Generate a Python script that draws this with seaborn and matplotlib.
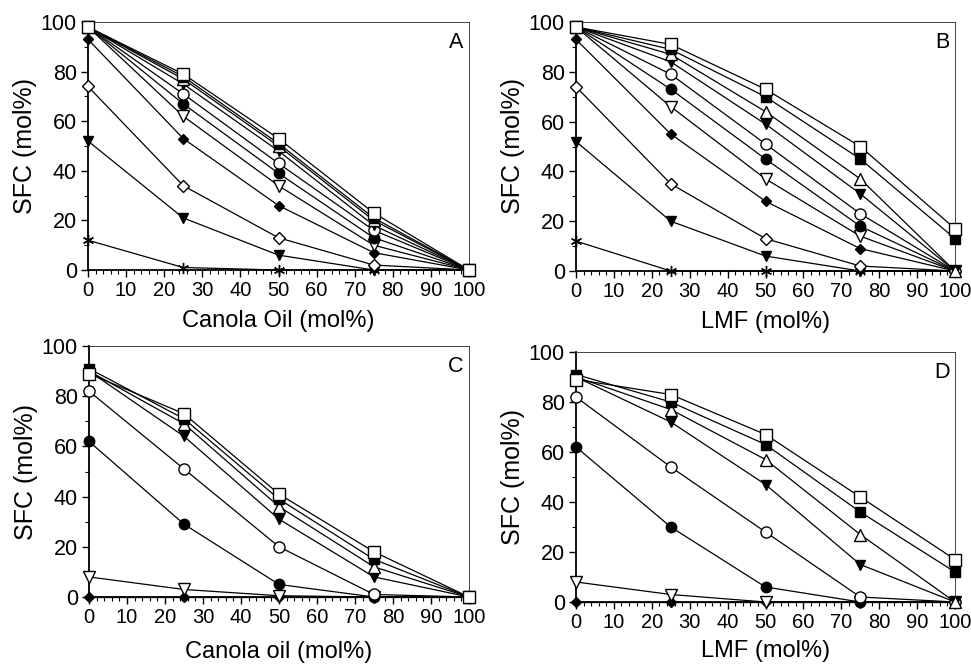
import numpy as np
import pandas as pd
import seaborn as sns
import matplotlib.pyplot as plt
from matplotlib.ticker import MultipleLocator

# composition of the blend (mol%)
conc = [0, 25, 50, 75, 100]

# series names, same order in every panel (drawn back to front)
series_ab = ['sq_open', 'sq_fill', 'tri_open', 'vtri_fill', 'circ_open', 'circ_fill',
             'vtri_open', 'dia_fill', 'dia_open', 'vtri_fill2', 'star']
series_cd = ['sq_open', 'sq_fill', 'tri_open', 'vtri_fill', 'circ_open', 'circ_fill',
             'vtri_open', 'dia_fill']

# SFC (mol%)
sfc_a = [[98, 79, 53, 23, 0],
         [98, 78, 51, 21, 0],
         [98, 77, 50, 20, 0],
         [98, 75, 48, 18, 0],
         [98, 71, 43, 16, 0],
         [98, 67, 39, 13, 0],
         [98, 62, 34, 10, 0],
         [93, 53, 26, 7, 0],
         [74, 34, 13, 2, 0],
         [52, 21, 6, 0, 0],
         [12, 1, 0, 0, 0]]

sfc_b = [[98, 91, 73, 50, 17],
         [98, 89, 70, 45, 13],
         [98, 87, 64, 37, 0],
         [98, 84, 59, 31, 0],
         [98, 79, 51, 23, 0],
         [98, 73, 45, 18, 0],
         [98, 66, 37, 14, 0],
         [93, 55, 28, 9, 0],
         [74, 35, 13, 2, 0],
         [52, 20, 6, 0, 0],
         [12, 0, 0, 0, 0]]

sfc_c = [[89, 73, 41, 18, 0],
         [91, 71, 39, 15, 0],
         [90, 69, 36, 12, 0],
         [90, 64, 31, 8, 0],
         [82, 51, 20, 1, 0],
         [62, 29, 5, 0, 0],
         [8, 3, 0.5, 0, 0],
         [0, 0, 0, 0, 0]]

sfc_d = [[89, 83, 67, 42, 17],
         [91, 80, 63, 36, 12],
         [90, 77, 57, 27, 0],
         [90, 72, 47, 15, 0],
         [82, 54, 28, 2, 0],
         [62, 30, 6, 0, 0],
         [8, 3, 0, 0, 0],
         [0, 0, 0, 0, 0]]

# marker styles: (marker, filled, size)
styles = {
    'sq_open': ('s', False, 8),
    'sq_fill': ('s', True, 7),
    'tri_open': ('^', False, 8),
    'vtri_fill': ('v', True, 7.5),
    'circ_open': ('o', False, 8),
    'circ_fill': ('o', True, 7.5),
    'vtri_open': ('v', False, 8),
    'dia_fill': ('D', True, 5.5),
    'dia_open': ('D', False, 6.5),
    'vtri_fill2': ('v', True, 7.5),
    'star': ((6, 2, 0), True, 8),
}

sns.set_style("ticks")
plt.rcParams['font.family'] = ['Liberation Sans', 'DejaVu Sans']
plt.rcParams['text.color'] = 'black'
plt.rcParams['axes.labelcolor'] = 'black'

fig = plt.figure(figsize=(9.71, 6.69), dpi=100)
W, H = 971, 669
boxes = {
    'A': (88, 22, 469, 270),
    'B': (576, 22, 955, 271),
    'C': (89, 346, 469, 597),
    'D': (576, 352, 955, 602),
}
panels = [('A', sfc_a, series_ab, 'Canola Oil (mol%)', 7),
          ('B', sfc_b, series_ab, 'LMF (mol%)', 7),
          ('C', sfc_c, series_cd, 'Canola oil (mol%)', 10),
          ('D', sfc_d, series_cd, 'LMF (mol%)', 6)]

for letter, sfc, names, xlabel, xpad in panels:
    x0, y0, x1, y1 = boxes[letter]
    ax = fig.add_axes([x0 / W, (H - y1) / H, (x1 - x0) / W, (y1 - y0) / H])
    rows = []
    for name, vals in zip(names, sfc):
        for c, v in zip(conc, vals):
            rows.append({'series': name, 'conc': c, 'sfc': v})
    df = pd.DataFrame(rows)
    # draw bottom series first so the squares end up on top
    for name in names[::-1]:
        m, filled, ms = styles[name]
        sns.lineplot(data=df[df['series'] == name], x='conc', y='sfc', ax=ax,
                     color='black', linewidth=0.9, marker=m, markersize=ms,
                     markerfacecolor='black' if filled else 'white',
                     markeredgecolor='black', markeredgewidth=1.0,
                     clip_on=False, zorder=3)
    ax.set_xlim(0, 100)
    ax.set_ylim(0, 100)
    ax.xaxis.set_major_locator(MultipleLocator(10))
    ax.xaxis.set_minor_locator(MultipleLocator(2))
    ax.yaxis.set_major_locator(MultipleLocator(20))
    ax.yaxis.set_minor_locator(MultipleLocator(10))
    ax.tick_params(which='major', direction='out', length=5, width=1,
                   color='black', labelcolor='black', pad=3)
    ax.tick_params(axis='x', which='major', labelsize=14.5)
    ax.tick_params(axis='y', which='major', labelsize=15.5)
    ax.tick_params(which='minor', direction='out', length=3, width=0.8, color='black')
    for side in ['left', 'bottom']:
        ax.spines[side].set_linewidth(1.3)
        ax.spines[side].set_color('black')
    for side in ['top', 'right']:
        ax.spines[side].set_visible(True)
        ax.spines[side].set_linewidth(0.7)
        ax.spines[side].set_color('#444444')
    ax.set_xlabel(xlabel, fontsize=17, labelpad=xpad, color='black')
    ax.set_ylabel('SFC (mol%)', fontsize=18, labelpad=3, color='black')
    ax.text(0.985, 0.96, letter, transform=ax.transAxes, ha='right', va='top',
            fontsize=15.5, color='black')
    ax.grid(False)

plt.savefig('out.png', dpi=100)
